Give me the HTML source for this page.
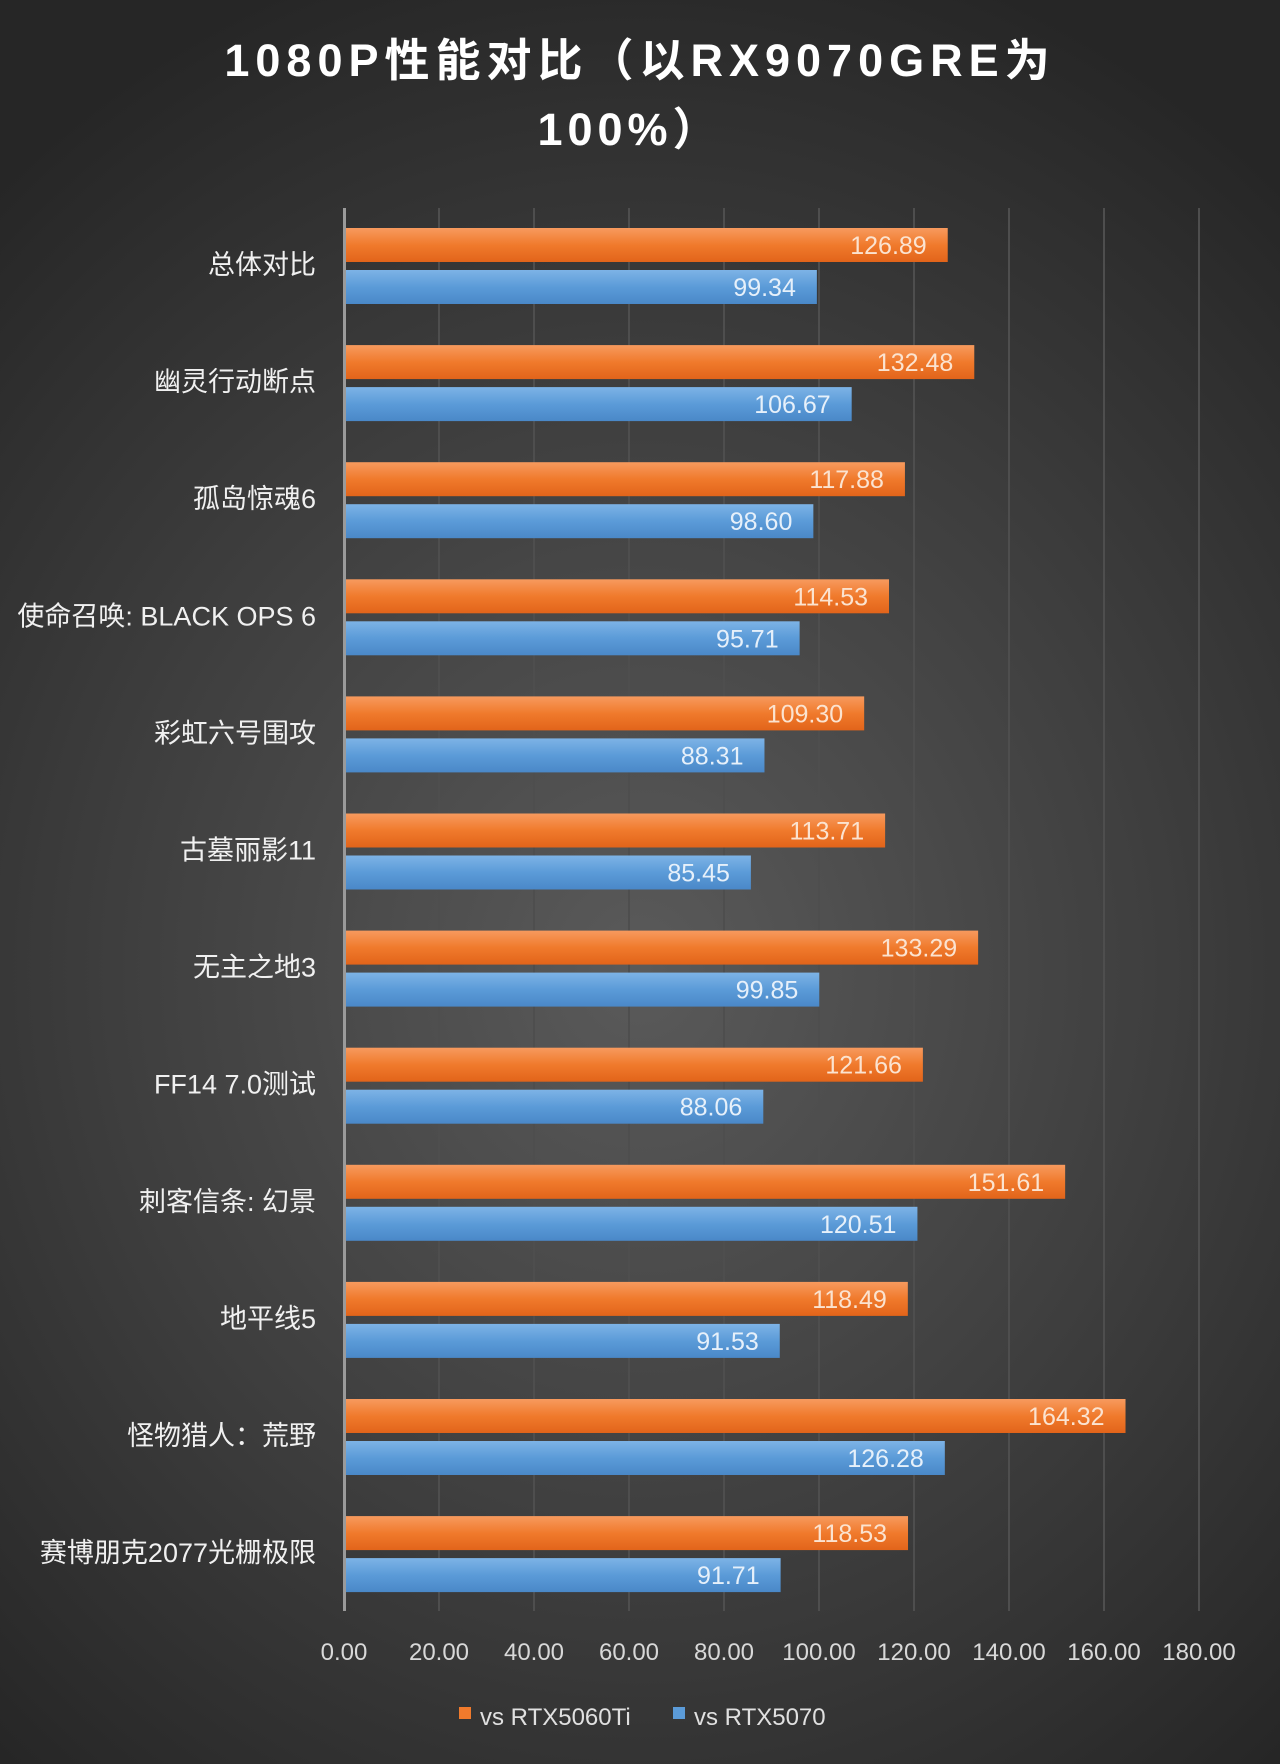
<!DOCTYPE html>
<html><head><meta charset="utf-8"><style>
html,body{margin:0;padding:0;width:1280px;height:1764px;overflow:hidden}
body{background:radial-gradient(ellipse 75% 60% at 50% 55%,#5a5a5a 0%,#3e3e3e 55%,#262626 100%)}
svg{position:absolute;left:0;top:0}
text{font-family:"Liberation Sans","Noto Sans CJK SC",sans-serif}
</style></head><body>
<svg width="1280" height="1764" xmlns="http://www.w3.org/2000/svg">
<defs>
<linearGradient id="o" x1="0" y1="0" x2="0" y2="1"><stop offset="0" stop-color="#f79a5e"/><stop offset="0.5" stop-color="#f07a2c"/><stop offset="1" stop-color="#e2641a"/></linearGradient>
<linearGradient id="b" x1="0" y1="0" x2="0" y2="1"><stop offset="0" stop-color="#7db3e6"/><stop offset="0.5" stop-color="#5b9bd8"/><stop offset="1" stop-color="#4a88c8"/></linearGradient>
</defs>
<text x="640" y="76" text-anchor="middle" font-size="45" font-weight="bold" fill="#fff" letter-spacing="6">1080P性能对比（以RX9070GRE为</text>
<text x="630" y="145" text-anchor="middle" font-size="45" font-weight="bold" fill="#fff" letter-spacing="5">100%）</text>
<g id="grid" stroke="#4e4e4e" stroke-width="2"></g>
<g id="bars"></g>
<line x1="344.5" y1="208" x2="344.5" y2="1611" stroke="#9a9a9a" stroke-width="3"/>
<g id="ticks" font-size="24" fill="#d8d8d8" text-anchor="middle"></g>
<rect x="459" y="1707" width="12" height="12" fill="#f07a2c"/>
<text x="480" y="1725" font-size="24" fill="#e0e0e0">vs RTX5060Ti</text>
<rect x="673" y="1707" width="12" height="12" fill="#5b9bd8"/>
<text x="694" y="1725" font-size="24" fill="#e0e0e0">vs RTX5070</text>
</svg>
<script>
var ns="http://www.w3.org/2000/svg";
function el(t,a,p,txt){var e=document.createElementNS(ns,t);for(var k in a)e.setAttribute(k,a[k]);if(txt!=null)e.textContent=txt;document.getElementById(p).appendChild(e);}
var x0=344,s=4.75;
for(var i=1;i<=9;i++){el("line",{x1:x0+i*95,y1:208,x2:x0+i*95,y2:1611},"grid");}
for(var i=0;i<=9;i++){el("text",{x:x0+i*95,y:1660},"ticks",(i*20).toFixed(2));}
var d=[["总体对比",126.89,99.34],["幽灵行动断点",132.48,106.67],["孤岛惊魂6",117.88,98.60],["使命召唤: BLACK OPS 6",114.53,95.71],["彩虹六号围攻",109.30,88.31],["古墓丽影11",113.71,85.45],["无主之地3",133.29,99.85],["FF14 7.0测试",121.66,88.06],["刺客信条: 幻景",151.61,120.51],["地平线5",118.49,91.53],["怪物猎人：荒野",164.32,126.28],["赛博朋克2077光栅极限",118.53,91.71]];
d.forEach(function(r,i){var y=228+i*117.1;
el("rect",{x:x0+1,y:y,width:r[1]*s,height:34,fill:"url(#o)"},"bars");
el("rect",{x:x0+1,y:y+42,width:r[2]*s,height:34,fill:"url(#b)"},"bars");
el("text",{x:x0+r[1]*s-20,y:y+26,"text-anchor":"end","font-size":25,fill:"#fbe3d0"},"bars",r[1].toFixed(2));
el("text",{x:x0+r[2]*s-20,y:y+68,"text-anchor":"end","font-size":25,fill:"#e6f0fa"},"bars",r[2].toFixed(2));
el("text",{x:316,y:y+46,"text-anchor":"end","font-size":27,fill:"#f0f0f0"},"bars",r[0]);
});
</script>
</body></html>
